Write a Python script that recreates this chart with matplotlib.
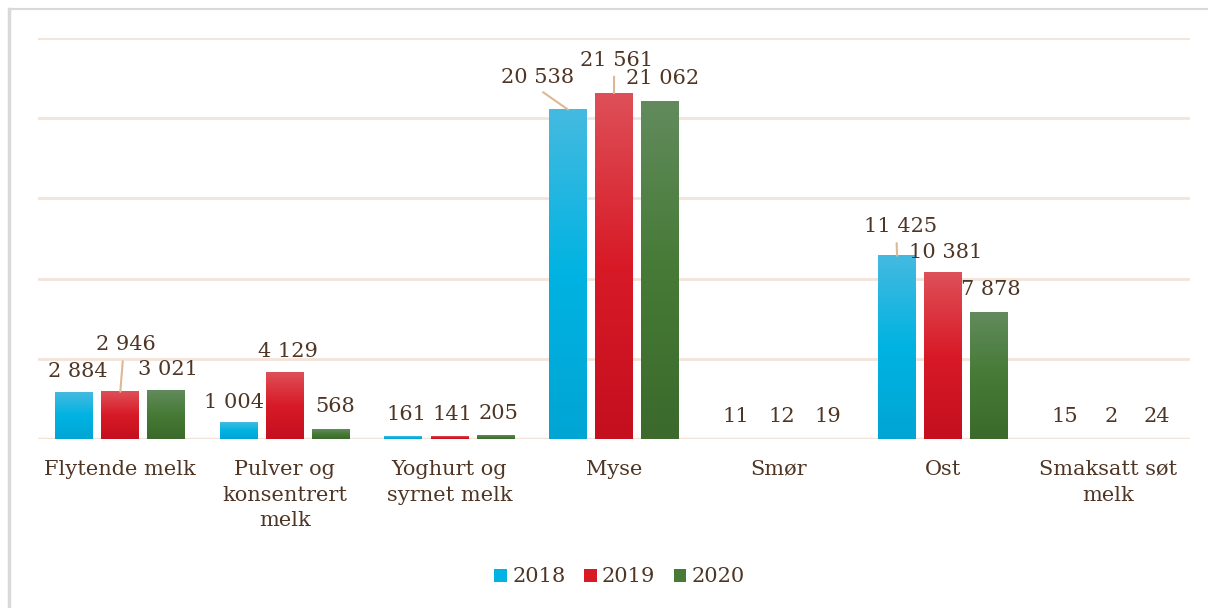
import matplotlib
matplotlib.use("Agg")
import matplotlib.pyplot as plt
import numpy as np
from matplotlib.colors import LinearSegmentedColormap
from matplotlib.patches import Patch
from matplotlib.lines import Line2D

# Data
categories = ["Flytende melk", "Pulver og\nkonsentrert\nmelk", "Yoghurt og\nsyrnet melk",
              "Myse", "Smør", "Ost", "Smaksatt søt\nmelk"]
years = ["2018", "2019", "2020"]
v2018 = [2884, 1004, 161, 20538, 11, 11425, 15]
v2019 = [2946, 4129, 141, 21561, 12, 10381, 2]
v2020 = [3021, 568, 205, 21062, 19, 7878, 24]

# Farger (bunn, midt, topp) for gradient
GRAD = {
    "2018": ["#00A5D4", "#00B3E2", "#45BAE0"],
    "2019": ["#C40F1F", "#D81A27", "#DE5058"],
    "2020": ["#3B6A2C", "#467A36", "#628B5D"],
}
TEXT = "#4E3524"
GRID = "#F3E4D9"
LEADER = "#DDB894"

plt.rcParams["font.family"] = ["DejaVu Serif"]

fig = plt.figure(figsize=(12.08, 6.08), dpi=100)
ax = fig.add_axes([38 / 1208, 1 - 439 / 608, 1152 / 1208, 401 / 608])

x = np.arange(len(categories))
w = 0.23
step = 0.28
series = [v2018, v2019, v2020]
px_per_unit = 401 / 25000

# Label-forskyvning i piksler (dx, dy) og ledelinjer
default_off = (3, 22)
label_off = {
    (0, 0): (4, 21), (0, 1): (6, 47), (0, 2): (2, 21),
    (1, 0): (-5, 20), (1, 1): (3, 21), (1, 2): (4, 23),
    (3, 0): (-30, 32), (3, 1): (3, 33), (3, 2): (2, 23),
    (5, 0): (3, 29), (5, 1): (3, 20), (5, 2): (2, 23),
}
leaders = {(0, 1): 0.45, (3, 0): 0.47, (3, 1): 0.46, (5, 0): 0.45}

for k, (yr, vals) in enumerate(zip(years, series)):
    cmap = LinearSegmentedColormap.from_list(yr, GRAD[yr])
    grad = np.linspace(0, 1, 256).reshape(-1, 1)
    bars = ax.bar(x + (k - 1) * step, vals, width=w, color="none", edgecolor="none", zorder=2)
    for i, b in enumerate(bars):
        # for små søyler til å synes
        if b.get_height() * px_per_unit >= 1:
            ax.imshow(grad, cmap=cmap, origin="lower", aspect="auto", zorder=3,
                      extent=[b.get_x(), b.get_x() + b.get_width(), 0, b.get_height()])
        dx, dy = label_off.get((i, k), default_off)
        txt = f"{vals[i]:,}".replace(",", " ")
        kw = {}
        if (i, k) in leaders:
            kw["arrowprops"] = dict(arrowstyle="-", color=LEADER, lw=1.5,
                                    shrinkA=3, shrinkB=0,
                                    relpos=(leaders[(i, k)], 0))
        ax.annotate(txt, xy=(b.get_x() + b.get_width() / 2, b.get_height()),
                    xytext=(dx, dy), textcoords="offset pixels",
                    ha="center", va="center", fontsize=15, color=TEXT, zorder=4, **kw)

ax.set_xlim(-0.5, len(categories) - 0.5)
ax.set_ylim(0, 25000)
ax.set_yticks(np.arange(0, 25001, 5000))
ax.yaxis.grid(True, color=GRID, lw=2, zorder=0)
ax.set_axisbelow(True)
ax.tick_params(axis="y", left=False, labelleft=False)
ax.set_xticks(x)
ax.set_xticklabels(categories, fontsize=15, color=TEXT, linespacing=1.45)
ax.tick_params(axis="x", length=0, pad=15)
for s in ["top", "right", "left", "bottom"]:
    ax.spines[s].set_visible(False)
ax.axhline(0, color=GRID, lw=2.5, zorder=1)

handles = [Patch(facecolor=GRAD[yr][1], edgecolor="none") for yr in years]
leg = fig.legend(handles, years, loc="center", bbox_to_anchor=(0.513, 1 - 577 / 608),
                 ncol=3, frameon=False, fontsize=15, handlelength=0.6, handleheight=0.6,
                 handletextpad=0.25, columnspacing=0.9)
for t in leg.get_texts():
    t.set_color(TEXT)

# Grå ramme (venstre og topp)
fig.add_artist(Line2D([9 / 1208, 9 / 1208], [0, 1 - 9 / 608], color="#D9D9D9", lw=2.5,
                      transform=fig.transFigure))
fig.add_artist(Line2D([9 / 1208, 1], [1 - 9 / 608, 1 - 9 / 608], color="#D9D9D9", lw=1.5,
                      transform=fig.transFigure))

fig.savefig("out.png", dpi=100)
